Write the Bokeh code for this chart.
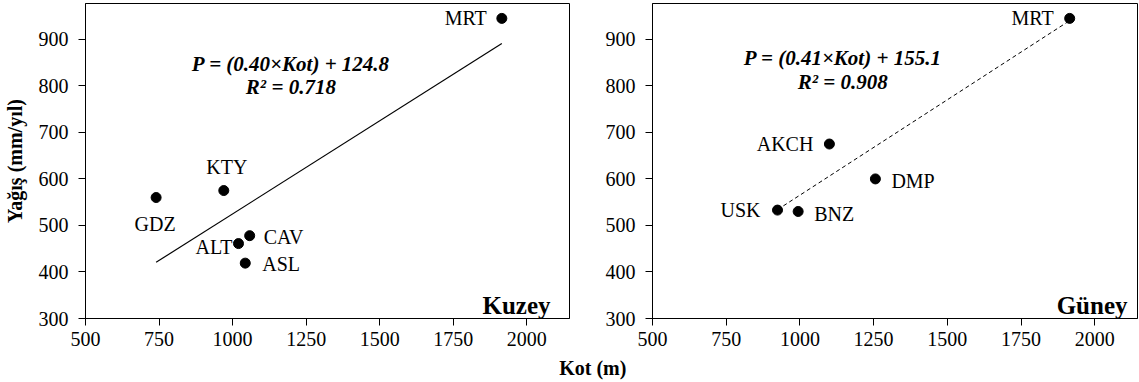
from bokeh.plotting import figure
from bokeh.models import ColumnDataSource, LabelSet, Label, Range1d, FixedTicker
from bokeh.layouts import column, row
from bokeh.embed import file_html
from bokeh.resources import INLINE
from bokeh.core.properties import value, field
from bokeh.core.validation import silence
from bokeh.core.validation.warnings import MISSING_RENDERERS

silence(MISSING_RENDERERS, True)

# ---------------- data ----------------
north_stations = ["MRT", "KTY", "GDZ", "CAV", "ALT", "ASL"]
north_kot = [1915, 970, 740, 1058, 1020, 1043]
north_yagis = [945, 575, 560, 478, 461, 419]
north_slope, north_intercept, north_r2 = 0.40, 124.8, 0.718

south_stations = ["MRT", "AKCH", "DMP", "USK", "BNZ"]
south_kot = [1915, 1100, 1256, 924, 994]
south_yagis = [945, 675, 600, 533, 530]
south_slope, south_intercept, south_r2 = 0.41, 155.1, 0.908

x_ticks = [500, 750, 1000, 1250, 1500, 1750, 2000]
y_ticks = [300, 400, 500, 600, 700, 800, 900]
x_label = "Kot (m)"
y_label = "Yağış (mm/yıl)"

# ---------------- style / placement ----------------
FONT = "Liberation Serif"
north_label_place = {"MRT": ("right", -15, 0), "KTY": ("center", 3, 24), "GDZ": ("center", -1, -26),
                     "CAV": ("left", 14, -1), "ALT": ("right", -6, -3), "ASL": ("left", 17, -1)}
south_label_place = {"MRT": ("right", -16, 0), "AKCH": ("right", -16, 0), "DMP": ("left", 16, -2),
                     "USK": ("right", -17, 0), "BNZ": ("left", 16, -3)}

X_END, Y_END = 2145, 977


def make_panel(stations, kot, yagis, slope, intercept, r2, place, name, name_dx,
               eq_x, eq_y1, eq_y2, dash, width, bl, br, show_ylabel):
    p = figure(width=width, height=354, x_range=Range1d(500, X_END), y_range=Range1d(300, Y_END),
               toolbar_location=None, output_backend="svg",
               min_border_left=bl, min_border_right=br, min_border_top=3, min_border_bottom=36,
               outline_line_color="black", outline_line_width=1)
    p.grid.visible = False
    p.xaxis.ticker = FixedTicker(ticks=x_ticks)
    p.yaxis.ticker = FixedTicker(ticks=y_ticks)
    for ax in (p.xaxis[0], p.yaxis[0]):
        ax.major_tick_out = 7
        ax.major_tick_in = 0
        ax.minor_tick_line_color = None
        ax.axis_line_color = "black"
        ax.major_tick_line_color = "black"
        ax.major_label_text_font = FONT
        ax.major_label_text_font_size = "20px"
        ax.major_label_text_color = "black"
    p.xaxis.major_label_standoff = 6
    p.yaxis.major_label_standoff = 10
    if show_ylabel:
        p.yaxis.axis_label = y_label
        p.yaxis.axis_label_text_font = FONT
        p.yaxis.axis_label_text_font_size = "20px"
        p.yaxis.axis_label_text_font_style = "bold"
        p.yaxis.axis_label_text_color = "black"
        p.yaxis.axis_label_standoff = 10

    # trend line from regression coefficients across the data range
    xs = [min(kot), max(kot)]
    ys = [slope * v + intercept for v in xs]
    if dash:
        p.line(xs, ys, line_color="black", line_width=1, line_dash="4 3")
    else:
        p.line(xs, ys, line_color="black", line_width=1.2)

    src = ColumnDataSource(dict(
        x=kot, y=yagis, name=stations,
        align=[place[s][0] for s in stations],
        dx=[place[s][1] for s in stations],
        dy=[place[s][2] for s in stations]))
    p.scatter("x", "y", source=src, size=10, marker="circle", fill_color="black", line_color="black")
    p.add_layout(LabelSet(x="x", y="y", text="name", source=src, x_offset="dx", y_offset="dy",
                          text_align=field("align"), text_baseline="middle",
                          text_font=value(FONT), text_font_size="20px", text_color="black"))

    eq1 = "P = (%.2f×Kot) + %.1f" % (slope, intercept)
    eq2 = "R² = %.3f" % r2
    for txt, yy in ((eq1, eq_y1), (eq2, eq_y2)):
        p.add_layout(Label(x=eq_x, y=yy, text=txt, text_align="center", text_baseline="middle",
                           text_font=FONT, text_font_size="21px", text_font_style="bold italic",
                           text_color="black"))
    p.add_layout(Label(x=X_END, y=300, x_offset=name_dx, y_offset=13.5, text=name,
                       text_align="right", text_baseline="alphabetic",
                       text_font=FONT, text_font_size="25px", text_font_style="bold",
                       text_color="black"))
    return p


p1 = make_panel(north_stations, north_kot, north_yagis, north_slope, north_intercept, north_r2,
                north_label_place, "Kuzey", -19, 1198, 847, 797, False, 84 + 485 + 10, 84, 10, True)
p2 = make_panel(south_stations, south_kot, south_yagis, south_slope, south_intercept, south_r2,
                south_label_place, "Güney", -10, 1145, 860, 808, True, 73 + 485 + 2, 73, 2, False)

p3 = figure(width=1139, height=28, x_range=Range1d(0, 1), y_range=Range1d(0, 1),
            x_axis_type=None, y_axis_type=None, toolbar_location=None, output_backend="svg",
            min_border=0, outline_line_color=None)
p3.add_layout(Label(x=0.52, y=0.53, text=x_label, text_align="center", text_baseline="middle",
                    text_font=FONT, text_font_size="20px", text_font_style="bold", text_color="black"))

layout = column(row(p1, p2), p3)
open("out.html", "w").write(file_html(layout, INLINE))
